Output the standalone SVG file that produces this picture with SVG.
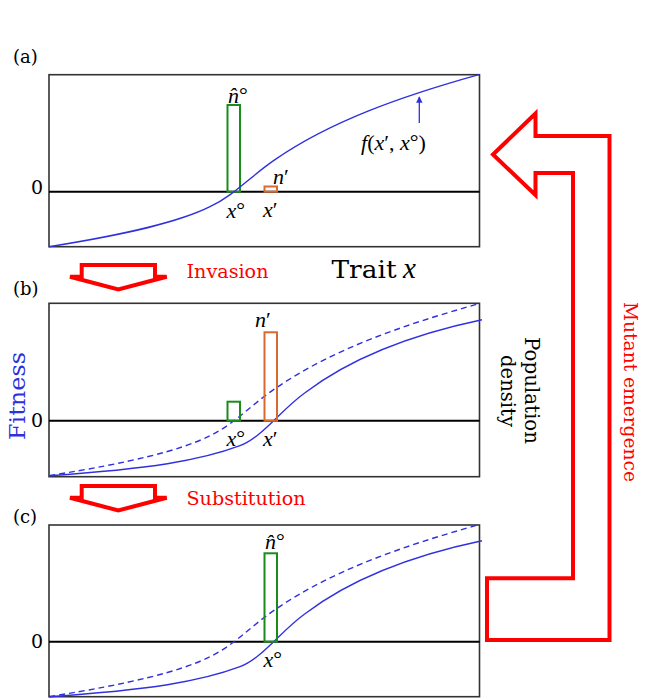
<svg xmlns="http://www.w3.org/2000/svg" width="647" height="700" viewBox="0 0 647 700">
<style>
.box{fill:none;stroke:#333;stroke-width:1.6}
.zero{stroke:#000;stroke-width:2}
.fit{fill:none;stroke:#3030e0;stroke-width:1.4}
.dash{fill:none;stroke:#3030e0;stroke-width:1.4;stroke-dasharray:6 4}
.g{fill:none;stroke:#1a8c1a;stroke-width:2}
.o{fill:none;stroke:#d9692e;stroke-width:2}
.lab{font-family:"DejaVu Serif","Liberation Serif",serif;fill:#000}
.math{font-family:"Liberation Serif","DejaVu Serif",serif;font-style:italic;fill:#000}
.up{font-style:normal}
.red{fill:#ff0000}
.blk{fill:none;stroke:#ff0000;stroke-width:4;stroke-linejoin:miter}
</style>
<defs>
<marker id="ah" viewBox="0 0 8 8" refX="7" refY="4" markerWidth="5" markerHeight="5" orient="auto">
<path d="M0,0 L8,4 L0,8 Z" fill="#3030e0"/>
</marker>
<path id="curveA" d="M49,55 C130,42 180,30 210,15 C235,3 250,-15 275,-32 C330,-70 400,-95 479,-117"/>
<path id="curveB" d="M49,55 C150,48 200,40 240,25 C262,16.7 280,-10 305,-28 C355,-66 420,-88 482,-101"/>
</defs>

<g id="panel-a">
<text class="lab" x="13" y="63" font-size="18">(a)</text>
<rect class="box" x="49" y="74.7" width="430.5" height="172"/>
<line class="zero" x1="49" y1="191.7" x2="479.5" y2="191.7"/>
<text class="lab" x="31" y="194" font-size="19">0</text>
<rect class="g" x="227.5" y="105" width="12.5" height="86.7"/>
<rect class="o" x="264.5" y="186.5" width="12.5" height="5.2"/>
<use href="#curveA" class="fit" transform="translate(0,191.7)"/>
<line x1="419.3" y1="123" x2="419.3" y2="97" stroke="#3030e0" stroke-width="1.3" marker-end="url(#ah)"/>
<text class="math" x="228" y="102.5" font-size="22">n&#x302;<tspan class="up" dy="-1">°</tspan></text>
<text class="math" x="226.5" y="218" font-size="22">x<tspan class="up" dy="-1">°</tspan></text>
<text class="math" x="263" y="217" font-size="22">x<tspan class="up">′</tspan></text>
<text class="math" x="273" y="184" font-size="22">n<tspan class="up">′</tspan></text>
<text class="math" x="361" y="150" font-size="22">f<tspan class="up">(</tspan>x<tspan class="up">′, </tspan>x<tspan class="up" dy="-1">°</tspan><tspan class="up" dy="1">)</tspan></text>
</g>

<g id="panel-b">
<text class="lab" x="13" y="295" font-size="18">(b)</text>
<rect class="box" x="49" y="303.3" width="430.5" height="173.4"/>
<line class="zero" x1="49" y1="420.7" x2="479.5" y2="420.7"/>
<text class="lab" x="31" y="427" font-size="19">0</text>
<use href="#curveA" class="dash" transform="translate(0,420.7)"/>
<use href="#curveB" class="fit" transform="translate(0,420.7)"/>
<rect class="g" x="227.5" y="401.7" width="12.5" height="19"/>
<rect class="o" x="264.5" y="332.3" width="12.5" height="88.4"/>
<text class="math" x="255" y="327" font-size="22">n<tspan class="up">′</tspan></text>
<text class="math" x="226.5" y="445.5" font-size="22">x<tspan class="up" dy="-1">°</tspan></text>
<text class="math" x="263" y="445.5" font-size="22">x<tspan class="up">′</tspan></text>
</g>

<g id="panel-c">
<text class="lab" x="13" y="523" font-size="18">(c)</text>
<rect class="box" x="49" y="525" width="430.5" height="171.7"/>
<line class="zero" x1="49" y1="641.7" x2="479.5" y2="641.7"/>
<text class="lab" x="31" y="648" font-size="19">0</text>
<use href="#curveA" class="dash" transform="translate(0,641.7)"/>
<use href="#curveB" class="fit" transform="translate(0,641.7)"/>
<rect class="g" x="264.5" y="553.3" width="12.5" height="88.4"/>
<text class="math" x="265" y="549" font-size="22">n&#x302;<tspan class="up" dy="-1">°</tspan></text>
<text class="math" x="263.5" y="666.5" font-size="22">x<tspan class="up" dy="-1">°</tspan></text>
</g>

<g id="axis-labels">
<text class="lab" x="331.5" y="278.3" font-size="25" textLength="65" lengthAdjust="spacingAndGlyphs">Trait</text>
<text class="math" x="403" y="278.3" font-size="29">x</text>
<text class="lab" font-size="22" fill="#3030e0" style="fill:#3030e0" transform="translate(25,440) rotate(-90)" textLength="88" lengthAdjust="spacingAndGlyphs">Fitness</text>
<text class="lab" font-size="20" transform="translate(525,337) rotate(90)" textLength="107" lengthAdjust="spacingAndGlyphs">Population</text>
<text class="lab" font-size="20" transform="translate(501,355) rotate(90)" textLength="72" lengthAdjust="spacingAndGlyphs">density</text>
</g>

<g id="connectors">
<g id="invasion">
<path class="blk" d="M81.7,265 L155,265 L155,276.7 L166.7,276.7 L118.3,289.5 L70,276.7 L81.7,276.7 Z"/>
<text class="lab red" x="186.5" y="278" font-size="19" textLength="82" lengthAdjust="spacingAndGlyphs">Invasion</text>
</g>
<g id="substitution">
<path class="blk" d="M81.7,486 L155,486 L155,497.7 L166.7,497.7 L118.3,510.5 L70,497.7 L81.7,497.7 Z"/>
<text class="lab red" x="186.5" y="505" font-size="19" textLength="119" lengthAdjust="spacingAndGlyphs">Substitution</text>
</g>
<g id="mutant-emergence">
<path class="blk" d="M493,154.5 L535.5,113.5 L535.5,136 L609.5,136 L609.5,640 L487,640 L487,578.3 L573,578.3 L573,173 L535.5,173 L535.5,195 Z"/>
<text class="lab red" font-size="18" transform="translate(623.5,302) rotate(90)" textLength="180" lengthAdjust="spacingAndGlyphs">Mutant emergence</text>
</g>
</g>
</svg>
